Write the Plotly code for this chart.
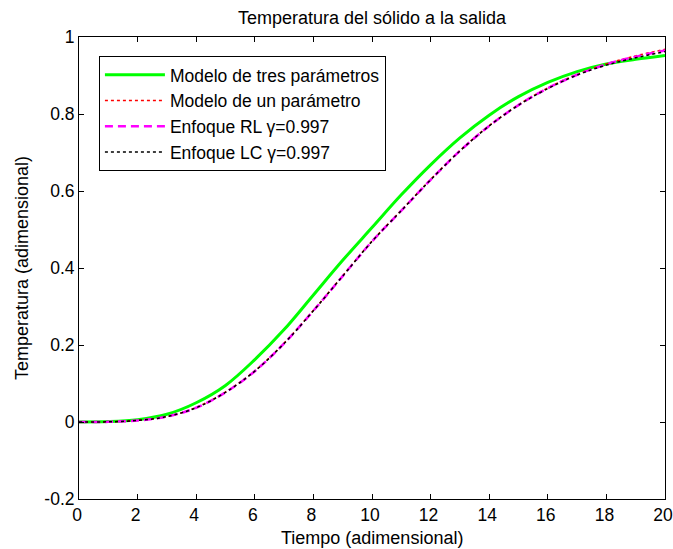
import plotly.graph_objects as go

tiempo = list(range(0, 21))
tres_parametros = [0, 0.001, 0.006, 0.02, 0.05, 0.095, 0.162, 0.24, 0.33, 0.42, 0.505,
                   0.59, 0.668, 0.738, 0.797, 0.845, 0.882, 0.91, 0.93, 0.942, 0.952]
un_parametro = [0, 0.0005, 0.004, 0.014, 0.038, 0.078, 0.133, 0.205, 0.29, 0.38, 0.47,
                0.55, 0.63, 0.705, 0.77, 0.824, 0.868, 0.903, 0.93, 0.951, 0.968]
enfoque_rl = [0, 0.0005, 0.004, 0.014, 0.037, 0.077, 0.132, 0.204, 0.289, 0.379, 0.469,
              0.549, 0.629, 0.704, 0.769, 0.823, 0.867, 0.902, 0.929, 0.949, 0.965]
enfoque_lc = [0, 0.0005, 0.004, 0.014, 0.037, 0.077, 0.132, 0.204, 0.289, 0.379, 0.469,
              0.549, 0.629, 0.704, 0.769, 0.823, 0.866, 0.901, 0.927, 0.946, 0.962]

y_ticks = [-0.2, 0, 0.2, 0.4, 0.6, 0.8, 1]
y_tick_labels = ["-0.2", "0", "0.2", "0.4", "0.6", "0.8", "1"]

names = ["Modelo de tres parámetros", "Modelo de un parámetro",
         "Enfoque RL γ=0.997", "Enfoque LC γ=0.997"]

fig = go.Figure()
fig.add_trace(go.Scatter(x=tiempo, y=tres_parametros, name=names[0], mode="lines",
                         line=dict(color="#00ff00", width=3, shape="spline")))
fig.add_trace(go.Scatter(x=tiempo, y=un_parametro, name=names[1], mode="lines",
                         line=dict(color="#ff0000", width=1.5, dash="dot", shape="spline")))
fig.add_trace(go.Scatter(x=tiempo, y=enfoque_rl, name=names[2], mode="lines",
                         line=dict(color="#ff00ff", width=2.5, dash="8px,5px", shape="spline")))
fig.add_trace(go.Scatter(x=tiempo, y=enfoque_lc, name=names[3], mode="lines",
                         line=dict(color="#000000", width=1.5, dash="dot", shape="spline")))

axis_common = dict(showline=True, linecolor="black", linewidth=1, mirror="ticks",
                   ticks="inside", ticklen=5, tickcolor="black", showgrid=False,
                   zeroline=False, automargin=False, ticklabeloverflow="allow",
                   tickfont=dict(size=17.5, color="black"))

fig.update_layout(
    width=673, height=549,
    margin=dict(l=79, r=8, t=37, b=50),
    paper_bgcolor="white", plot_bgcolor="white",
    font=dict(family="Liberation Sans, Arial, sans-serif", color="black", size=18),
    title=dict(text="Temperatura del sólido a la salida", x=0.5, xref="paper",
               xanchor="center", y=1 - 18 / 549, yanchor="middle", font=dict(size=18)),
    xaxis=dict(range=[0, 20], tick0=0, dtick=2, ticklabelshift=-2, **axis_common),
    yaxis=dict(range=[-0.2, 1], tickvals=y_ticks, ticktext=y_tick_labels, **axis_common),
    legend=dict(x=0.034, y=0.959, xanchor="left", yanchor="top",
                bgcolor="white", bordercolor="black", borderwidth=1,
                font=dict(size=17.5), itemwidth=60, tracegroupgap=0),
    showlegend=True,
    annotations=[
        dict(text="Tiempo (adimensional)", xref="paper", yref="paper",
             x=0.5, y=(499 - 538) / 462, xanchor="center", yanchor="middle",
             showarrow=False, font=dict(size=18)),
        dict(text="Temperatura (adimensional)", xref="paper", yref="paper",
             x=(22 - 79) / 586, y=0.5, xanchor="center", yanchor="middle",
             textangle=-90, showarrow=False, font=dict(size=18)),
    ],
)

fig.write_html("out.html", config={"displayModeBar": False},
               post_script="document.body.style.margin='0';document.body.style.overflow='hidden';")
